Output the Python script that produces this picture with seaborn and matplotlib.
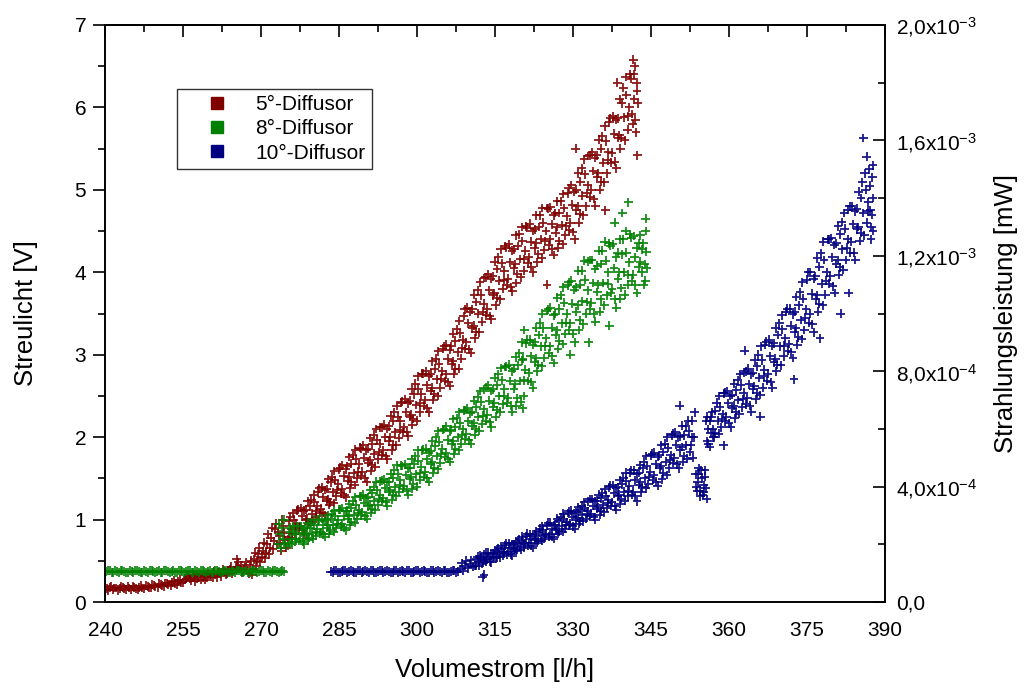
import matplotlib
matplotlib.use("Agg")
import matplotlib.pyplot as plt
import seaborn as sns
import pandas as pd
from matplotlib.lines import Line2D
from matplotlib.ticker import MultipleLocator, FixedLocator, FixedFormatter

# ---------------- data ----------------
series_names = ["5°-Diffusor", "8°-Diffusor", "10°-Diffusor"]
series_colors = ["#800000", "#008000", "#000080"]

red_low = [(240.3,0.16),(240.9,0.18),(241.5,0.15),(242.1,0.17),(242.8,0.16),(243.4,0.18),(244.0,0.15),(244.7,0.17),
           (245.3,0.19),(245.9,0.16),(246.6,0.18),(247.2,0.17),(247.8,0.2),(248.5,0.18),(249.1,0.21),(249.7,0.19),
           (250.4,0.22),(251.0,0.2),(251.6,0.23),(252.2,0.21),(252.9,0.24),(253.5,0.22),(254.1,0.25),(254.7,0.23),
           (255.3,0.27),(255.8,0.3),(256.3,0.28),(256.9,0.31),(257.4,0.25),(257.9,0.3),(258.5,0.27),(259.0,0.32),
           (259.6,0.29),(260.1,0.34),(260.7,0.3),(261.2,0.33),(261.8,0.36),(262.3,0.31),(262.9,0.37),(263.4,0.34),
           (264.0,0.39),(264.5,0.35),(265.1,0.42),(265.6,0.48),(265.9,0.4),(266.4,0.36),(266.9,0.42),(267.4,0.38),
           (267.9,0.45),(268.3,0.33),(268.7,0.52),(269.1,0.44),(269.5,0.58),(269.9,0.49),(270.3,0.62),(270.7,0.53),
           (271.1,0.7),(271.5,0.58),(271.9,0.78),(272.3,0.64),(272.7,0.88),(273.1,0.7),(273.5,0.8),(273.9,0.62),
           (274.3,0.92),(274.7,0.75),
           (240.6,0.14),(241.2,0.19),(241.8,0.17),(242.5,0.14),(243.1,0.19),(243.7,0.16),(244.4,0.19),(245.0,0.15),
           (245.6,0.18),(246.3,0.15),(246.9,0.2),(247.5,0.16),(248.2,0.19),(248.8,0.17),(249.4,0.2),(250.1,0.18),
           (250.7,0.21),(251.3,0.19),(251.9,0.22),(252.6,0.2),(253.2,0.26),(253.8,0.21),(254.4,0.27),(255.0,0.24),
           (255.6,0.28),(256.1,0.33),(256.6,0.26),(257.2,0.33),(257.7,0.28),(258.2,0.34),(258.8,0.3),(259.3,0.27),
           (259.9,0.35),(260.4,0.31),(261.0,0.37),(261.5,0.3),(262.1,0.34),(262.6,0.4),(263.2,0.33),(263.7,0.38),
           (264.3,0.43),(264.8,0.38),(265.3,0.52),(266.1,0.45),(266.7,0.39),(267.2,0.48),(267.7,0.35),(268.1,0.5),
           (268.5,0.4),(268.9,0.6),(269.3,0.5),(269.7,0.66),(270.1,0.55),(270.5,0.72),(270.9,0.6),(271.3,0.82),
           (271.7,0.66),(272.1,0.9),(272.5,0.74),(272.9,0.95),(273.3,0.85),(273.7,0.72),(274.1,1.0),(274.5,0.84),
           (274.9,0.66)]

red_band = [(275.1,0.76),(275.4,0.98),(275.8,0.88),(276.1,1.08),(276.5,0.83),(276.8,0.95),
            (277.2,1.12),(277.5,0.92),(277.9,1.04),(278.3,0.82),(278.6,1.12),(278.9,1.01),
            (279.1,0.95),(279.4,1.16),(279.8,1.07),(280.1,1.3),(280.5,1.03),(280.8,1.16),
            (281.2,1.38),(281.5,1.13),(281.9,1.27),(282.3,1.05),(282.6,1.37),(282.9,1.25),
            (283.1,1.18),(283.4,1.45),(283.8,1.33),(284.1,1.59),(284.5,1.28),(284.8,1.43),
            (285.2,1.63),(285.5,1.37),(285.9,1.53),(286.3,1.27),(286.6,1.65),(286.9,1.52),
            (287.1,1.38),(287.4,1.68),(287.8,1.56),(288.1,1.85),(288.5,1.5),(288.8,1.67),
            (289.2,1.86),(289.5,1.58),(289.9,1.75),(290.3,1.46),(290.6,1.86),(290.9,1.72),
            (291.1,1.59),(291.4,1.92),(291.8,1.8),(292.1,2.1),(292.5,1.73),(292.8,1.92),
            (293.2,2.12),(293.5,1.84),(293.9,2.0),(294.3,1.73),(294.6,2.13),(294.9,2.0),
            (295.1,1.84),(295.4,2.2),(295.8,2.06),(296.1,2.38),(296.5,1.99),(296.8,2.2),
            (297.2,2.43),(297.5,2.12),(297.9,2.3),(298.3,2.01),(298.6,2.44),(298.9,2.27),
            (299.1,2.15),(299.4,2.52),(299.8,2.39),(300.1,2.74),(300.5,2.3),(300.8,2.52),
            (301.2,2.77),(301.5,2.45),(301.9,2.63),(302.3,2.3),(302.6,2.77),(302.9,2.6),
            (303.1,2.45),(303.4,2.83),(303.8,2.7),(304.1,3.04),(304.5,2.6),(304.8,2.8),
            (305.2,3.1),(305.5,2.76),(305.9,2.95),(306.3,2.62),(306.6,3.1),(306.9,2.92),
            (307.1,2.77),(307.4,3.17),(307.8,3.03),(308.1,3.41),(308.5,2.95),(308.8,3.18),
            (309.2,3.55),(309.5,3.15),(309.9,3.38),(310.3,3.02),(310.6,3.55),(310.9,3.35),
            (311.1,3.2),(311.4,3.64),(311.8,3.5),(312.1,3.88),(312.5,3.4),(312.8,3.62),
            (313.2,3.94),(313.5,3.55),(313.9,3.78),(314.3,3.43),(314.6,3.95),(314.9,3.75),
            (315.1,3.6),(315.4,4.04),(315.8,3.9),(316.1,4.28),(316.5,3.8),(316.8,4.02),
            (317.2,4.3),(317.5,3.92),(317.9,4.12),(318.3,3.77),(318.6,4.28),(318.9,4.1),
            (319.1,3.87),(319.4,4.32),(319.8,4.16),(320.1,4.55),(320.5,4.02),(320.8,4.26),
            (321.2,4.54),(321.5,4.18),(321.9,4.37),(322.3,4.0),(322.6,4.52),(322.9,4.35),
            (323.1,4.12),(323.4,4.55),(323.8,4.4),(324.1,4.78),(324.5,4.27),(324.8,4.5),
            (325.2,4.77),(325.5,4.4),(325.9,4.58),(326.3,4.21),(326.6,4.72),(326.9,4.55),
            (327.1,4.3),(327.4,4.72),(327.8,4.57),(328.1,4.95),(328.5,4.45),(328.8,4.68),
            (329.2,5.02),(329.5,4.6),(329.9,4.82),(330.3,4.4),(330.6,5.0),(330.9,4.8),
            (331.1,4.6),(331.4,5.1),(331.8,4.93),(332.1,5.37),(332.5,4.8),(332.8,5.06),
            (333.2,5.42),(333.5,5.0),(333.9,5.23),(334.3,4.81),(334.6,5.42),(334.9,5.2),
            (335.1,5.0),(335.4,5.5),(335.8,5.33),(336.1,5.77),(336.5,5.2),(336.8,5.46),
            (337.2,5.87),(337.5,5.45),(337.9,5.68),(338.3,5.26),(338.6,5.87),(338.9,5.66),
            (339.1,5.5),(339.4,6.05),(339.8,5.88),(340.1,6.37),(340.5,5.73),(340.8,6.0),
            (341.2,6.35),(341.5,5.8),(341.8,6.1),(342.1,5.7),(341.6,6.58),(342.3,6.2),
            (342.4,5.42),(336.2,4.75),(325.0,3.85),(338.5,6.3),(330.5,5.5),
            (275.3,0.79),(275.65,1.03),(276.0,0.78),(276.25,1.0),(276.65,0.9),(276.95,1.11),
            (277.3,0.88),(277.65,1.14),(278.0,0.87),(278.25,1.11),(278.65,1.0),(278.95,1.22),
            (279.3,0.97),(279.65,1.24),(280.0,0.97),(280.25,1.21),(280.65,1.1),(280.95,1.33),
            (281.3,1.08),(281.65,1.39),(282.0,1.08),(282.25,1.36),(282.65,1.23),(282.95,1.49),
            (283.3,1.21),(283.65,1.52),(284.0,1.2),(284.25,1.48),(284.65,1.36),(284.95,1.61),
            (285.3,1.32),(285.65,1.66),(286.0,1.3),(286.25,1.61),(286.65,1.47),(286.95,1.76),
            (287.3,1.45),(287.65,1.78),(288.0,1.42),(288.25,1.73),(288.65,1.58),(288.95,1.87),
            (289.3,1.53),(289.65,1.9),(290.0,1.51),(290.25,1.84),(290.65,1.69),(290.95,1.99),
            (291.3,1.66),(291.65,2.03),(292.0,1.64),(292.25,1.97),(292.65,1.82),(292.95,2.12),
            (293.3,1.78),(293.65,2.15),(294.0,1.77),(294.25,2.1),(294.65,1.95),(294.95,2.26),
            (295.3,1.9),(295.65,2.3),(296.0,1.9),(296.25,2.25),(296.65,2.09),(296.95,2.42),
            (297.3,2.06),(297.65,2.46),(298.0,2.06),(298.25,2.41),(298.65,2.25),(298.95,2.58),
            (299.3,2.22),(299.65,2.65),(300.0,2.2),(300.25,2.59),(300.65,2.41),(300.95,2.77),
            (301.3,2.38),(301.65,2.8),(302.0,2.35),(302.25,2.74),(302.65,2.56),(302.95,2.92),
            (303.3,2.52),(303.65,2.95),(304.0,2.5),(304.25,2.89),(304.65,2.71),(304.95,3.07),
            (305.3,2.68),(305.65,3.12),(306.0,2.67),(306.25,3.06),(306.65,2.89),(306.95,3.25),
            (307.3,2.83),(307.65,3.31),(308.0,2.83),(308.25,3.26),(308.65,3.08),(308.95,3.47),
            (309.3,3.07),(309.65,3.57),(310.0,3.07),(310.25,3.52),(310.65,3.32),(310.95,3.73),
            (311.3,3.28),(311.65,3.78),(312.0,3.27),(312.25,3.72),(312.65,3.52),(312.95,3.93),
            (313.3,3.48),(313.65,3.98),(314.0,3.47),(314.25,3.92),(314.65,3.72),(314.95,4.13),
            (315.3,3.69),(315.65,4.18),(316.0,3.67),(316.25,4.11),(316.65,3.91),(316.95,4.32),
            (317.3,3.85),(317.65,4.34),(318.0,3.82),(318.25,4.26),(318.65,4.05),(318.95,4.45),
            (319.3,3.98),(319.65,4.46),(320.0,3.94),(320.25,4.38),(320.65,4.16),(320.95,4.56),
            (321.3,4.11),(321.65,4.59),(322.0,4.07),(322.25,4.5),(322.65,4.29),(322.95,4.69),
            (323.3,4.22),(323.65,4.69),(324.0,4.17),(324.25,4.6),(324.65,4.38),(324.95,4.78),
            (325.3,4.33),(325.65,4.79),(326.0,4.28),(326.25,4.69),(326.65,4.48),(326.95,4.86),
            (327.3,4.38),(327.65,4.86),(328.0,4.34),(328.25,4.78),(328.65,4.56),(328.95,4.96),
            (329.3,4.51),(329.65,5.06),(330.0,4.49),(330.25,4.98),(330.65,4.75),(330.95,5.2),
            (331.3,4.71),(331.65,5.26),(332.0,4.69),(332.25,5.19),(332.65,4.96),(332.95,5.41),
            (333.3,4.91),(333.65,5.46),(334.0,4.89),(334.25,5.39),(334.65,5.16),(334.95,5.61),
            (335.3,5.1),(335.65,5.65),(336.0,5.09),(336.25,5.59),(336.65,5.36),(336.95,5.82),
            (337.3,5.33),(337.65,5.89),(338.0,5.34),(338.25,5.85),(338.65,5.63),(338.95,6.1),
            (339.3,5.63),(339.65,6.24),(340.0,5.6),(340.25,6.15),(340.65,5.89),(340.95,6.4),
            (341.3,5.92),(341.65,6.4),(342.0,5.85),(342.25,6.3),(342.5,6.05),(341.9,6.5)]

green_flat = [(240.2,0.37),(240.9,0.38),(241.6,0.36),(242.3,0.37),(243.0,0.38),(243.7,0.37),(244.4,0.36),(245.1,0.37),
              (245.8,0.38),(246.5,0.37),(247.2,0.36),(247.9,0.37),(248.6,0.38),(249.3,0.37),(250.0,0.37),(250.7,0.36),
              (251.4,0.38),(252.1,0.37),(252.8,0.37),(253.5,0.36),(254.2,0.38),(254.9,0.37),(255.6,0.37),(256.3,0.38),
              (257.0,0.36),(257.7,0.37),(258.4,0.38),(259.1,0.37),(259.8,0.37),(260.5,0.36),(261.2,0.38),(261.9,0.37),
              (262.6,0.37),(263.3,0.38),(264.0,0.36),(264.7,0.37),(265.4,0.38),(266.1,0.37),(266.8,0.37),(267.5,0.36),
              (268.2,0.38),(268.9,0.37),(269.6,0.37),(270.3,0.38),(271.0,0.36),(271.7,0.37),(272.4,0.38),(273.1,0.37),
              (273.8,0.37),(274.4,0.37),
              (240.55,0.38),(241.25,0.36),(241.95,0.38),(242.65,0.36),(243.35,0.38),(244.05,0.36),(244.75,0.38),
              (245.45,0.36),(246.15,0.38),(246.85,0.36),(247.55,0.38),(248.25,0.36),(248.95,0.38),(249.65,0.36),
              (250.35,0.38),(251.05,0.36),(251.75,0.38),(252.45,0.36),(253.15,0.38),(253.85,0.36),(254.55,0.38),
              (255.25,0.36),(255.95,0.38),(256.65,0.36),(257.35,0.38),(258.05,0.36),(258.75,0.38),(259.45,0.36),
              (260.15,0.38),(260.85,0.36),(261.55,0.38),(262.25,0.36),(262.95,0.38),(263.65,0.36),(264.35,0.38),
              (265.05,0.36),(265.75,0.38),(266.45,0.36),(267.15,0.38),(267.85,0.36),(268.55,0.38),(269.25,0.36),
              (269.95,0.38),(270.65,0.36),(271.35,0.38),(272.05,0.36),(272.75,0.38),(273.45,0.36),(274.1,0.38)]

green_band = [(273.3,0.7),(273.4,0.95),(273.6,0.82),(273.8,0.65),(274.0,0.9),(274.2,0.76),(274.5,1.0),(274.7,0.7),
              (275.1,0.68),(275.4,0.85),(275.8,0.77),(276.1,0.92),(276.5,0.73),(276.8,0.82),
              (277.2,0.92),(277.5,0.77),(277.9,0.84),(278.3,0.7),(278.6,0.9),(278.9,0.83),
              (279.1,0.75),(279.4,0.9),(279.8,0.84),(280.1,1.0),(280.5,0.8),(280.8,0.89),
              (281.2,1.0),(281.5,0.85),(281.9,0.93),(282.3,0.79),(282.6,0.99),(282.9,0.93),
              (283.1,0.83),(283.4,1.01),(283.8,0.94),(284.1,1.11),(284.5,0.9),(284.8,0.99),
              (285.2,1.12),(285.5,0.95),(285.9,1.04),(286.3,0.87),(286.6,1.11),(286.9,1.04),
              (287.1,0.93),(287.4,1.14),(287.8,1.06),(288.1,1.27),(288.5,1.01),(288.8,1.12),
              (289.2,1.28),(289.5,1.09),(289.9,1.2),(290.3,1.01),(290.6,1.27),(290.9,1.18),
              (291.1,1.08),(291.4,1.32),(291.8,1.23),(292.1,1.46),(292.5,1.18),(292.8,1.3),
              (293.2,1.47),(293.5,1.26),(293.9,1.38),(294.3,1.17),(294.6,1.46),(294.9,1.36),
              (295.1,1.24),(295.4,1.51),(295.8,1.4),(296.1,1.66),(296.5,1.34),(296.8,1.48),
              (297.2,1.65),(297.5,1.41),(297.9,1.54),(298.3,1.3),(298.6,1.63),(298.9,1.52),
              (299.1,1.37),(299.4,1.67),(299.8,1.55),(300.1,1.84),(300.5,1.48),(300.8,1.64),
              (301.2,1.85),(301.5,1.58),(301.9,1.73),(302.3,1.46),(302.6,1.83),(302.9,1.7),
              (303.1,1.57),(303.4,1.89),(303.8,1.77),(304.1,2.07),(304.5,1.69),(304.8,1.86),
              (305.2,2.1),(305.5,1.81),(305.9,1.97),(306.3,1.7),(306.6,2.09),(306.9,1.95),
              (307.1,1.8),(307.4,2.12),(307.8,2.0),(308.1,2.3),(308.5,1.92),(308.8,2.1),
              (309.2,2.33),(309.5,2.04),(309.9,2.19),(310.3,1.92),(310.6,2.31),(310.9,2.17),
              (311.1,2.03),(311.4,2.37),(311.8,2.25),(312.1,2.56),(312.5,2.16),(312.8,2.34),
              (313.2,2.6),(313.5,2.27),(313.9,2.44),(314.3,2.12),(314.6,2.58),(314.9,2.42),
              (315.1,2.25),(315.4,2.63),(315.8,2.5),(316.1,2.84),(316.5,2.4),(316.8,2.59),
              (317.2,2.86),(317.5,2.48),(317.9,2.68),(318.3,2.31),(318.6,2.83),(318.9,2.65),
              (319.1,2.38),(319.4,2.87),(319.8,2.68),(320.1,3.15),(320.5,2.5),(320.8,2.82),
              (320.3,2.35),(320.6,3.3),(320.4,2.95),
              (321.2,3.18),(321.5,2.78),(321.9,2.98),(322.3,2.6),(322.6,3.15),(322.9,2.96),
              (323.1,2.8),(323.4,3.24),(323.8,3.1),(324.1,3.5),(324.5,2.96),(324.8,3.2),
              (325.2,3.55),(325.5,3.1),(325.9,3.33),(326.3,2.9),(326.6,3.5),(326.9,3.3),
              (327.1,3.07),(327.4,3.56),(327.8,3.38),(328.1,3.82),(328.5,3.25),(328.8,3.5),
              (329.2,3.88),(329.5,3.38),(329.9,3.62),(330.3,3.15),(330.6,3.82),(330.9,3.6),
              (331.1,3.3),(331.4,3.85),(331.8,3.65),(332.1,4.14),(332.5,3.5),(332.8,3.78),
              (333.2,4.15),(333.5,3.63),(333.9,3.87),(334.3,3.4),(334.6,4.08),(334.9,3.85),
              (335.1,3.52),(335.4,4.1),(335.8,3.87),(336.1,4.37),(336.5,3.72),(336.8,4.0),
              (337.2,4.32),(337.5,3.8),(337.9,4.05),(338.3,3.57),(338.6,4.24),(338.9,4.0),
              (339.1,3.68),(339.4,4.22),(339.8,4.0),(340.1,4.5),(340.5,3.85),(340.8,4.12),
              (341.2,4.42),(341.5,3.97),(341.9,4.18),(342.3,3.75),(342.6,4.35),(342.9,4.13),
              (343.2,4.0),(343.5,4.35),(343.8,4.1),(344.0,4.5),(343.6,3.85),(344.1,4.25),
              (339.5,4.72),(340.6,4.85),(337.0,3.35),(333.0,3.15),(344.0,4.65),(329.5,3.0),(338.0,4.6),
              (275.3,0.72),(275.65,0.9),(276.0,0.7),(276.25,0.85),(276.65,0.77),(276.95,0.92),
              (277.3,0.74),(277.65,0.92),(278.0,0.73),(278.25,0.88),(278.65,0.81),(278.95,0.96),
              (279.3,0.78),(279.65,0.96),(280.0,0.77),(280.25,0.93),(280.65,0.85),(280.95,1.0),
              (281.3,0.83),(281.65,1.01),(282.0,0.82),(282.25,0.98),(282.65,0.9),(282.95,1.05),
              (283.3,0.87),(283.65,1.07),(284.0,0.85),(284.25,1.04),(284.65,0.95),(284.95,1.12),
              (285.3,0.92),(285.65,1.14),(286.0,0.9),(286.25,1.1),(286.65,1.01),(286.95,1.19),
              (287.3,0.97),(287.65,1.22),(288.0,0.96),(288.25,1.18),(288.65,1.08),(288.95,1.28),
              (289.3,1.05),(289.65,1.3),(290.0,1.04),(290.25,1.26),(290.65,1.16),(290.95,1.36),
              (291.3,1.13),(291.65,1.4),(292.0,1.12),(292.25,1.36),(292.65,1.25),(292.95,1.46),
              (293.3,1.22),(293.65,1.49),(294.0,1.21),(294.25,1.45),(294.65,1.34),(294.95,1.55),
              (295.3,1.3),(295.65,1.6),(296.0,1.28),(296.25,1.55),(296.65,1.42),(296.95,1.66),
              (297.3,1.37),(297.65,1.67),(298.0,1.35),(298.25,1.62),(298.65,1.49),(298.95,1.73),
              (299.3,1.43),(299.65,1.77),(300.0,1.4),(300.25,1.71),(300.65,1.56),(300.95,1.84),
              (301.3,1.52),(301.65,1.86),(302.0,1.5),(302.25,1.81),(302.65,1.67),(302.95,1.95),
              (303.3,1.63),(303.65,2.0),(304.0,1.61),(304.25,1.94),(304.65,1.79),(304.95,2.09),
              (305.3,1.76),(305.65,2.13),(306.0,1.74),(306.25,2.07),(306.65,1.92),(306.95,2.22),
              (307.3,1.86),(307.65,2.23),(308.0,1.84),(308.25,2.17),(308.65,2.02),(308.95,2.32),
              (309.3,1.98),(309.65,2.35),(310.0,1.96),(310.25,2.29),(310.65,2.14),(310.95,2.44),
              (311.3,2.1),(311.65,2.49),(312.0,2.08),(312.25,2.43),(312.65,2.26),(312.95,2.58),
              (313.3,2.2),(313.65,2.63),(314.0,2.18),(314.25,2.56),(314.65,2.37),(314.95,2.72),
              (315.3,2.33),(315.65,2.76),(316.0,2.31),(316.25,2.69),(316.65,2.5),(316.95,2.85),
              (317.3,2.42),(317.65,2.88),(318.0,2.38),(318.25,2.8),(318.65,2.59),(318.95,2.97),
              (319.3,2.47),(319.65,3.02),(320.0,2.43),(320.25,2.93),(320.65,2.69),(320.95,3.14),
              (321.3,2.68),(321.65,3.18),(322.0,2.67),(322.25,3.12),(322.65,2.91),(322.95,3.33),
              (323.3,2.88),(323.65,3.39),(324.0,2.86),(324.25,3.32),(324.65,3.1),(324.95,3.53),
              (325.3,3.02),(325.65,3.57),(326.0,2.98),(326.25,3.48),(326.65,3.24),(326.95,3.69),
              (327.3,3.17),(327.65,3.72),(328.0,3.13),(328.25,3.63),(328.65,3.39),(328.95,3.84),
              (329.3,3.3),(329.65,3.9),(330.0,3.25),(330.25,3.79),(330.65,3.52),(330.95,4.02),
              (331.3,3.42),(331.65,4.02),(332.0,3.37),(332.25,3.91),(332.65,3.64),(332.95,4.13),
              (333.3,3.56),(333.65,4.15),(334.0,3.5),(334.25,4.04),(334.65,3.76),(334.95,4.26),
              (335.3,3.67),(335.65,4.26),(336.0,3.6),(336.25,4.14),(336.65,3.86),(336.95,4.35),
              (337.3,3.75),(337.65,4.34),(338.0,3.67),(338.25,4.18),(338.65,3.92),(338.95,4.4),
              (339.3,3.81),(339.65,4.4),(340.0,3.73),(340.25,4.24),(340.65,3.97),(340.95,4.46),
              (341.3,3.9),(341.65,4.44),(342.0,3.84),(342.25,4.3),(342.65,4.06),(342.95,4.45),
              (343.3,4.28),(343.9,3.9),(344.2,4.05)]

blue_flat = [(283.4,0.37),(284.1,0.38),(284.8,0.36),(285.5,0.37),(286.2,0.38),(286.9,0.37),(287.6,0.37),(288.3,0.36),
             (289.0,0.38),(289.7,0.37),(290.4,0.37),(291.1,0.38),(291.8,0.36),(292.5,0.37),(293.2,0.38),(293.9,0.37),
             (294.6,0.37),(295.3,0.36),(296.0,0.38),(296.7,0.37),(297.4,0.37),(298.1,0.38),(298.8,0.36),(299.5,0.37),
             (300.2,0.38),(300.9,0.37),(301.6,0.37),(302.3,0.36),(303.0,0.38),(303.7,0.37),(304.4,0.37),(305.1,0.38),
             (305.8,0.36),(306.5,0.37),(307.2,0.38),(307.9,0.37),
             (283.75,0.36),(284.45,0.38),(285.15,0.36),(285.85,0.38),(286.55,0.36),(287.25,0.38),(287.95,0.36),
             (288.65,0.38),(289.35,0.36),(290.05,0.38),(290.75,0.36),(291.45,0.38),(292.15,0.36),(292.85,0.38),
             (293.55,0.36),(294.25,0.38),(294.95,0.36),(295.65,0.38),(296.35,0.36),(297.05,0.38),(297.75,0.36),
             (298.45,0.38),(299.15,0.36),(299.85,0.38),(300.55,0.36),(301.25,0.38),(301.95,0.36),(302.65,0.38),
             (303.35,0.36),(304.05,0.38),(304.75,0.36),(305.45,0.38),(306.15,0.36),(306.85,0.38),(307.55,0.36)]

blue_band = [(308.3,0.4),(308.6,0.47),(308.9,0.38),(309.2,0.44),(309.5,0.5),(309.8,0.41),
             (310.1,0.46),(310.4,0.51),(310.7,0.43),
             (311.1,0.44),(311.4,0.52),(311.8,0.48),(312.1,0.56),(312.5,0.46),(312.8,0.51),(312.6,0.3),(312.9,0.33),
             (313.2,0.6),(313.5,0.52),(313.9,0.55),(314.3,0.48),(314.6,0.59),(314.9,0.55),
             (315.1,0.53),(315.4,0.62),(315.8,0.58),(316.1,0.68),(316.5,0.56),(316.8,0.61),
             (317.2,0.71),(317.5,0.61),(317.9,0.66),(318.3,0.56),(318.6,0.7),(318.9,0.65),
             (319.1,0.62),(319.4,0.72),(319.8,0.68),(320.1,0.79),(320.5,0.66),(320.8,0.71),
             (321.2,0.83),(321.5,0.71),(321.9,0.77),(322.3,0.66),(322.6,0.82),(322.9,0.76),
             (323.1,0.72),(323.4,0.85),(323.8,0.8),(324.1,0.92),(324.5,0.77),(324.8,0.83),
             (325.2,0.96),(325.5,0.82),(325.9,0.89),(326.3,0.77),(326.6,0.94),(326.9,0.88),
             (327.1,0.83),(327.4,0.98),(327.8,0.92),(328.1,1.07),(328.5,0.89),(328.8,0.97),
             (329.2,1.1),(329.5,0.95),(329.9,1.03),(330.3,0.89),(330.6,1.09),(330.9,1.02),
             (331.1,0.95),(331.4,1.12),(331.8,1.05),(332.1,1.21),(332.5,1.01),(332.8,1.1),
             (333.2,1.25),(333.5,1.07),(333.9,1.17),(334.3,1.0),(334.6,1.23),(334.9,1.15),
             (335.1,1.06),(335.4,1.26),(335.8,1.18),(336.1,1.37),(336.5,1.14),(336.8,1.24),
             (337.2,1.41),(337.5,1.21),(337.9,1.32),(338.3,1.12),(338.6,1.39),(338.9,1.3),
             (339.1,1.19),(339.4,1.43),(339.8,1.34),(340.1,1.57),(340.5,1.28),(340.8,1.41),
             (341.2,1.6),(341.5,1.34),(341.9,1.48),(342.3,1.22),(342.6,1.57),(342.9,1.45),
             (343.1,1.33),(343.4,1.62),(343.8,1.5),(344.1,1.77),(344.5,1.43),(344.8,1.58),
             (345.2,1.8),(345.5,1.54),(345.9,1.67),(346.3,1.41),(346.6,1.78),(346.9,1.65),
             (347.1,1.49),(347.4,1.82),(347.8,1.7),(348.1,2.0),(348.5,1.62),(348.8,1.78),
             (349.2,2.04),(349.5,1.75),(349.9,1.91),(350.3,1.62),(350.6,2.01),(350.9,1.88),
             (351.1,1.7),(351.4,2.02),(351.8,1.9),(352.1,2.2),(352.5,1.82),(352.8,2.0),
             (353.6,1.55),(353.9,1.35),(354.2,1.62),(354.5,1.28),(354.8,1.5),(355.1,1.42),
             (355.4,1.6),(355.7,1.25),(354.0,1.45),(355.2,1.33),
             (355.6,2.2),(355.8,1.95),(356.0,2.1),(356.3,1.88),(356.6,2.25),(356.9,2.1),
             (357.1,2.0),(357.4,2.32),(357.8,2.2),(358.1,2.5),(358.5,2.12),(358.8,2.28),
             (359.2,2.54),(359.5,2.25),(359.9,2.41),(360.3,2.12),(360.6,2.51),(360.9,2.38),
             (361.1,2.23),(361.4,2.57),(361.8,2.45),(362.1,2.76),(362.5,2.36),(362.8,2.54),
             (363.2,2.8),(363.5,2.47),(363.9,2.64),(364.3,2.31),(364.6,2.78),(364.9,2.62),
             (365.1,2.46),(365.4,2.86),(365.8,2.72),(366.1,3.1),(366.5,2.6),(366.8,2.82),
             (367.2,3.16),(367.5,2.77),(367.9,2.98),(368.3,2.6),(368.6,3.14),(368.9,2.95),
             (369.1,2.8),(369.4,3.24),(369.8,3.1),(370.1,3.48),(370.5,2.98),(370.8,3.2),
             (371.2,3.56),(371.5,3.13),(371.9,3.35),(372.3,2.96),(372.6,3.52),(372.9,3.32),
             (373.1,3.12),(373.4,3.6),(373.8,3.42),(374.1,3.88),(374.5,3.3),(374.8,3.55),
             (375.2,4.0),(375.5,3.5),(375.9,3.74),(376.3,3.27),(376.6,3.95),(376.9,3.72),
             (377.1,3.52),(377.4,4.07),(377.8,3.86),(378.1,4.37),(378.5,3.73),(378.8,4.0),
             (379.2,4.4),(379.5,3.95),(379.9,4.18),(380.3,3.75),(380.6,4.35),(380.9,4.15),
             (381.1,3.97),(381.4,4.46),(381.8,4.28),(382.1,4.72),(382.5,4.15),(382.8,4.4),
             (383.2,4.8),(383.5,4.37),(383.9,4.58),(384.3,4.15),(384.6,4.77),(384.9,4.55),
             (385.1,4.38),(385.4,4.9),(385.8,4.72),(386.1,5.2),(386.5,4.6),(386.8,4.85),
             (387.1,5.05),(387.4,4.55),(387.6,4.9),(387.7,5.3),(387.3,4.4),(387.5,4.7),
             (385.8,5.63),(383.0,3.75),(381.5,3.5),(377.5,3.2),(372.5,2.7),(366.0,2.25),
             (350.5,2.38),(359.0,1.9),(363.0,3.05),(386.5,5.4),
             (311.3,0.44),(311.65,0.55),(312.0,0.44),(312.25,0.53),(312.65,0.5),(312.95,0.58),
             (313.3,0.49),(313.65,0.6),(314.0,0.49),(314.25,0.58),(314.65,0.55),(314.95,0.63),
             (315.3,0.54),(315.65,0.65),(316.0,0.54),(316.25,0.64),(316.65,0.6),(316.95,0.69),
             (317.3,0.58),(317.65,0.71),(318.0,0.58),(318.25,0.69),(318.65,0.64),(318.95,0.74),
             (319.3,0.63),(319.65,0.76),(320.0,0.63),(320.25,0.74),(320.65,0.7),(320.95,0.8),
             (321.3,0.68),(321.65,0.82),(322.0,0.68),(322.25,0.8),(322.65,0.75),(322.95,0.86),
             (323.3,0.74),(323.65,0.89),(324.0,0.74),(324.25,0.87),(324.65,0.81),(324.95,0.93),
             (325.3,0.79),(325.65,0.96),(326.0,0.79),(326.25,0.93),(326.65,0.87),(326.95,1.01),
             (327.3,0.86),(327.65,1.03),(328.0,0.85),(328.25,1.01),(328.65,0.94),(328.95,1.08),
             (329.3,0.93),(329.65,1.11),(330.0,0.92),(330.25,1.08),(330.65,1.0),(330.95,1.15),
             (331.3,0.98),(331.65,1.17),(332.0,0.98),(332.25,1.14),(332.65,1.07),(332.95,1.22),
             (333.3,1.04),(333.65,1.25),(334.0,1.03),(334.25,1.22),(334.65,1.13),(334.95,1.3),
             (335.3,1.1),(335.65,1.32),(336.0,1.09),(336.25,1.29),(336.65,1.2),(336.95,1.39),
             (337.3,1.17),(337.65,1.42),(338.0,1.16),(338.25,1.38),(338.65,1.28),(338.95,1.48),
             (339.3,1.25),(339.65,1.51),(340.0,1.23),(340.25,1.47),(340.65,1.35),(340.95,1.57),
             (341.3,1.3),(341.65,1.6),(342.0,1.28),(342.25,1.55),(342.65,1.42),(342.95,1.66),
             (343.3,1.39),(343.65,1.7),(344.0,1.38),(344.25,1.65),(344.65,1.52),(344.95,1.78),
             (345.3,1.48),(345.65,1.81),(346.0,1.46),(346.25,1.76),(346.65,1.62),(346.95,1.9),
             (347.3,1.56),(347.65,1.92),(348.0,1.54),(348.25,1.87),(348.65,1.72),(348.95,2.02),
             (349.3,1.69),(349.65,2.06),(350.0,1.67),(350.25,2.0),(350.65,1.84),(350.95,2.14),
             (351.3,1.77),(351.65,2.13),(352.0,1.74),(352.25,2.07),(352.65,1.9),(352.95,2.2),
             (353.2,2.0),(353.4,2.3),(353.0,1.75),
             (353.7,1.4),(354.1,1.55),(354.4,1.35),(354.7,1.6),(355.0,1.3),(355.3,1.52),(355.5,1.38),
             (355.8,2.25),(356.0,1.92),(356.25,2.2),(356.5,2.05),(356.75,2.3),(356.95,2.0),
             (357.3,2.05),(357.65,2.42),(358.0,2.04),(358.25,2.37),(358.65,2.22),(358.95,2.53),
             (359.3,2.19),(359.65,2.56),(360.0,2.17),(360.25,2.5),(360.65,2.35),(360.95,2.65),
             (361.3,2.3),(361.65,2.69),(362.0,2.28),(362.25,2.63),(362.65,2.46),(362.95,2.78),
             (363.3,2.4),(363.65,2.83),(364.0,2.38),(364.25,2.76),(364.65,2.58),(364.95,2.93),
             (365.3,2.53),(365.65,3.0),(366.0,2.51),(366.25,2.93),(366.65,2.74),(366.95,3.12),
             (367.3,2.68),(367.65,3.18),(368.0,2.67),(368.25,3.11),(368.65,2.91),(368.95,3.32),
             (369.3,2.88),(369.65,3.38),(370.0,2.87),(370.25,3.31),(370.65,3.11),(370.95,3.52),
             (371.3,3.05),(371.65,3.56),(372.0,3.03),(372.25,3.49),(372.65,3.28),(372.95,3.7),
             (373.3,3.21),(373.65,3.76),(374.0,3.19),(374.25,3.68),(374.65,3.45),(374.95,3.91),
             (375.3,3.39),(375.65,4.0),(376.0,3.37),(376.25,3.92),(376.65,3.67),(376.95,4.17),
             (377.3,3.62),(377.65,4.23),(378.0,3.6),(378.25,4.15),(378.65,3.9),(378.95,4.4),
             (379.3,3.86),(379.65,4.41),(380.0,3.83),(380.25,4.33),(380.65,4.1),(380.95,4.56),
             (381.3,4.06),(381.65,4.61),(382.0,4.03),(382.25,4.53),(382.65,4.3),(382.95,4.76),
             (383.3,4.24),(383.65,4.8),(384.0,4.24),(384.25,4.74),(384.65,4.52),(384.95,4.98),
             (385.3,4.48),(385.65,5.09),(386.0,4.45),(386.25,5.0),(386.65,4.74),(386.95,5.25),
             (387.2,4.75),(387.55,5.15),(387.7,4.5)]

x_ticks = [240, 255, 270, 285, 300, 315, 330, 345, 360, 375, 390]
y_ticks = [0, 1, 2, 3, 4, 5, 6, 7]
right_ticks = [0.0, 4e-4, 8e-4, 1.2e-3, 1.6e-3, 2.0e-3]
right_labels = ["0,0", "4,0x10$^{-4}$", "8,0x10$^{-4}$", "1,2x10$^{-3}$", "1,6x10$^{-3}$", "2,0x10$^{-3}$"]

# ---------------- build table ----------------
rows = []
for name, pts_list in [(series_names[0], red_low + red_band),
                       (series_names[1], green_flat + green_band),
                       (series_names[2], blue_flat + blue_band)]:
    for (xv, yv) in pts_list:
        rows.append({"x": xv, "y": yv, "series": name})
df = pd.DataFrame(rows)

# ---------------- plot ----------------
sns.set_style("white")
plt.rcParams["font.family"] = ["Liberation Sans", "DejaVu Sans"]
plt.rcParams["mathtext.default"] = "regular"
for key in ["text.color", "axes.labelcolor", "xtick.color", "ytick.color", "axes.edgecolor"]:
    plt.rcParams[key] = "black"

fig = plt.figure(figsize=(10.31, 6.93), dpi=100)
ax = fig.add_axes([105 / 1031, (693 - 602) / 693, 780 / 1031, 577 / 693])

sns.scatterplot(data=df, x="x", y="y", hue="series", hue_order=series_names,
                palette=series_colors, marker="+", s=40, linewidth=1.3,
                alpha=0.9, legend=False, ax=ax, zorder=3)

ax.set_xlim(240, 390)
ax.set_ylim(0, 7)
ax.xaxis.set_major_locator(FixedLocator(x_ticks))
ax.xaxis.set_minor_locator(MultipleLocator(7.5))
ax.yaxis.set_major_locator(FixedLocator(y_ticks))
ax.yaxis.set_minor_locator(MultipleLocator(0.5))
ax.tick_params(axis="both", which="major", direction="out", length=8.5, width=1.2,
               labelsize=15, colors="black")
ax.tick_params(axis="both", which="minor", direction="out", length=5, width=1.2)
ax.tick_params(axis="x", which="major", pad=5)
ax.tick_params(axis="y", which="major", pad=5)
for sp in ax.spines.values():
    sp.set_linewidth(1.2)
    sp.set_color("black")
    sp.set_visible(True)

ax.set_xlabel("Volumestrom [l/h]", fontsize=18.5)
ax.set_ylabel("Streulicht [V]", fontsize=18.5)
ax.xaxis.set_label_coords(0.5, (602 - 658) / 577)
ax.yaxis.set_label_coords((38 - 105) / 780, 0.5)

# top axis: inward ticks, no labels
top = ax.secondary_xaxis("top")
top.xaxis.set_major_locator(FixedLocator(x_ticks))
top.xaxis.set_minor_locator(MultipleLocator(7.5))
top.tick_params(which="major", direction="in", length=8.5, width=1.2, labeltop=False)
top.tick_params(which="minor", direction="in", length=5, width=1.2)
top.spines["top"].set_linewidth(1.2)

# right axis
ax2 = ax.twinx()
ax2.set_ylim(0, 2.0e-3)
ax2.yaxis.set_major_locator(FixedLocator(right_ticks))
ax2.yaxis.set_major_formatter(FixedFormatter(right_labels))
ax2.yaxis.set_minor_locator(MultipleLocator(2e-4))
ax2.tick_params(axis="y", which="major", direction="in", length=8.5, width=1.2,
                labelsize=15, pad=8)
ax2.tick_params(axis="y", which="minor", direction="in", length=5, width=1.2)
ax2.yaxis.get_offset_text().set_visible(False)
ax2.set_ylabel("Strahlungsleistung [mW]", fontsize=18.5)
ax2.yaxis.set_label_coords((994 - 105) / 780, 0.5)
for sp in ax2.spines.values():
    sp.set_linewidth(1.2)
ax2.grid(False)
ax.grid(False)

# legend
handles = [Line2D([0], [0], marker="s", linestyle="none", markersize=9,
                  markerfacecolor=c, markeredgecolor=c) for c in series_colors]
leg = ax.legend(handles, series_names, loc="upper left",
                bbox_to_anchor=((177 - 105) / 780, (602 - 89) / 577),
                borderaxespad=0, fontsize=15, frameon=True, fancybox=False,
                edgecolor="black", handlelength=3.2, handletextpad=0.25,
                labelspacing=0.25, borderpad=0.3)
leg.get_frame().set_linewidth(1.0)
leg.set_zorder(5)

fig.savefig("out.png", dpi=100)
